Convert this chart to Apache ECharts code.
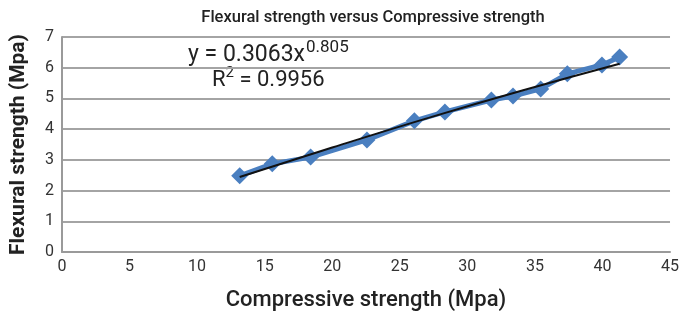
<!DOCTYPE html>
<html><head><meta charset="utf-8">
<script src="https://cdn.jsdelivr.net/npm/echarts@6/dist/echarts.min.js"></script>
<style>html,body{margin:0;padding:0;background:#fff}#c{width:682px;height:320px}</style>
</head><body><div id="c"></div>
<script>
var compressive = [13.15, 15.56, 18.4, 22.57, 26.08, 28.34, 31.78, 33.38, 35.43, 37.4, 39.96, 41.27];
var flexural    = [2.48, 2.87, 3.09, 3.65, 4.27, 4.56, 4.95, 5.08, 5.31, 5.80, 6.09, 6.35];
var trendX = [13.15, 20, 27, 34, 41.27];
var trendY = [2.44, 3.40, 4.35, 5.25, 6.13];
var xTicks = [0, 5, 10, 15, 20, 25, 30, 35, 40, 45];
var yTicks = [0, 1, 2, 3, 4, 5, 6, 7];

var pts = compressive.map(function (x, i) { return [x, flexural[i]]; });
var tr = trendX.map(function (x, i) { return [x, trendY[i]]; });
var font = 'Roboto, "Noto Sans", sans-serif';
var chart = echarts.init(document.getElementById('c'));
chart.setOption({
  animation: false,
  title: {
    text: 'Flexural strength versus Compressive strength',
    left: 368, top: 4, textAlign: 'center',
    textStyle: { fontFamily: font, fontSize: 16.5, fontWeight: 500, color: '#222' }
  },
  grid: { left: 61, right: 7, top: 37, bottom: 68 },
  xAxis: {
    type: 'value', min: 0, max: 45, interval: 5,
    name: 'Compressive strength (Mpa)', nameLocation: 'middle', nameGap: 37,
    nameTextStyle: { fontFamily: font, fontSize: 22, color: '#222', fontWeight: 500 },
    axisLine: { lineStyle: { color: '#9a9a9a', width: 2 } },
    axisTick: { show: false },
    splitLine: { show: false },
    axisLabel: { fontFamily: font, fontSize: 16, color: '#333', margin: 7,
      formatter: function (v) { return xTicks.indexOf(v) >= 0 ? String(v) : ''; } }
  },
  yAxis: {
    type: 'value', min: 0, max: 7, interval: 1,
    name: 'Flexural strength (Mpa)', nameLocation: 'middle', nameGap: 33,
    nameTextStyle: { fontFamily: font, fontSize: 21, color: '#222', fontWeight: 'bold' },
    axisLine: { show: true, lineStyle: { color: '#9a9a9a', width: 2 } },
    axisTick: { show: false },
    splitLine: { lineStyle: { color: '#a4a4a4', width: 2 } },
    axisLabel: { fontFamily: font, fontSize: 16, color: '#333', margin: 8,
      formatter: function (v) { return yTicks.indexOf(v) >= 0 ? String(v) : ''; } }
  },
  series: [
    {
      type: 'line', data: pts, symbol: 'diamond', symbolSize: 17,
      lineStyle: { color: '#4a7fc0', width: 5 },
      itemStyle: { color: '#4a7fc0' }, z: 2
    },
    {
      type: 'line', data: tr, symbol: 'none', smooth: true,
      lineStyle: { color: '#111', width: 2 }, z: 3
    }
  ],
  graphic: [
    { type: 'text', left: 188, top: 39, style: {
      text: '{b|y = 0.3063x}{s|0.805}', fill: '#222',
      rich: { b: { fontFamily: font, fontSize: 23, fill: '#222', verticalAlign: 'bottom' },
              s: { fontFamily: font, fontSize: 17, fill: '#222', verticalAlign: 'top', padding: [0,0,11,1] } } } },
    { type: 'text', left: 212, top: 66, style: {
      text: '{b|R}{s|2}{b| = 0.9956}', fill: '#222',
      rich: { b: { fontFamily: font, fontSize: 22, fill: '#222', verticalAlign: 'bottom' },
              s: { fontFamily: font, fontSize: 15, fill: '#222', verticalAlign: 'top', padding: [0,0,10,0] } } } }
  ]
});
</script></body></html>
